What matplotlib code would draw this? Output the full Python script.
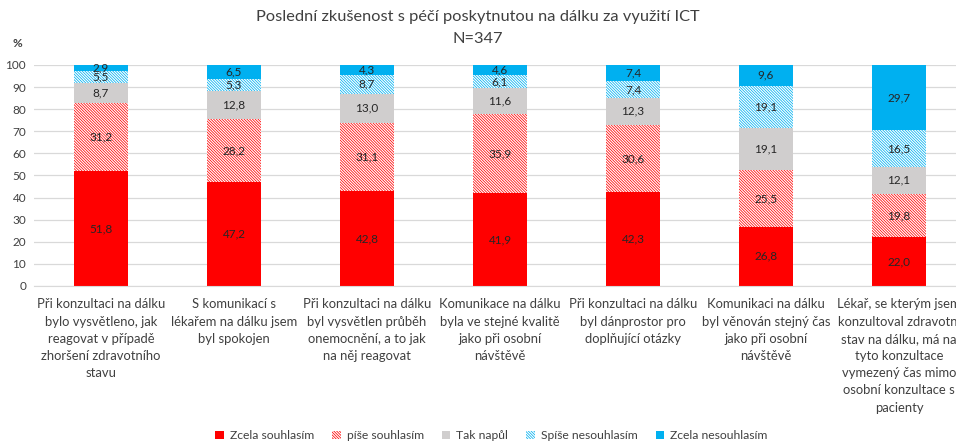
import matplotlib
matplotlib.use("Agg")
import matplotlib.pyplot as plt
import numpy as np

plt.rcParams['font.family'] = ['Lato', 'DejaVu Sans']
plt.rcParams['hatch.linewidth'] = 0.55

kategorie = [
    "Při konzultaci na dálku\nbylo vysvětleno, jak\nreagovat v případě\nzhoršení zdravotního\nstavu",
    "S komunikací s\nlékařem na dálku jsem\nbyl spokojen",
    "Při konzultaci na dálku\nbyl vysvětlen průběh\nonemocnění, a to jak\nna něj reagovat",
    "Komunikace na dálku\nbyla ve stejné kvalitě\njako při osobní\nnávštěvě",
    "Při konzultaci na dálku\nbyl dánprostor pro\ndoplňující otázky",
    "Komunikaci na dálku\nbyl věnován stejný čas\njako při osobní\nnávštěvě",
    "Lékař, se kterým jsem\nkonzultoval zdravotní\nstav na dálku, má na\ntyto konzultace\nvymezený čas mimo\nosobní konzultace s\npacienty",
]
legenda = ["Zcela souhlasím", "píše souhlasím", "Tak napůl", "Spíše nesouhlasím", "Zcela nesouhlasím"]

zcela_souhlasim = [51.8, 47.2, 42.8, 41.9, 42.3, 26.8, 22.0]
spise_souhlasim = [31.2, 28.2, 31.1, 35.9, 30.6, 25.5, 19.8]
tak_napul = [8.7, 12.8, 13.0, 11.6, 12.3, 19.1, 12.1]
spise_nesouhlasim = [5.5, 5.3, 8.7, 6.1, 7.4, 19.1, 16.5]
zcela_nesouhlasim = [2.9, 6.5, 4.3, 4.6, 7.4, 9.6, 29.7]

rady = [zcela_souhlasim, spise_souhlasim, tak_napul, spise_nesouhlasim, zcela_nesouhlasim]
# (barva vyplne, barva hrany/srafy, srafa)
srafa = "\\" * 12
styly = [
    ("#FF0000", "#FF0000", None),
    ("white", "#FF0000", srafa),
    ("#D0CECE", "#D0CECE", None),
    ("white", "#00B0F0", srafa),
    ("#00B0F0", "#00B0F0", None),
]

fig = plt.figure(figsize=(9.56, 4.42), dpi=100)
ax = fig.add_axes([0.036, 0.353, 0.974, 0.500])

x = np.arange(len(kategorie))
spodek = np.zeros(len(kategorie))
handles = []
for hodnoty, (fc, ec, hatch), nazev in zip(rady, styly, legenda):
    bars = ax.bar(x, hodnoty, width=0.4, bottom=spodek, color=fc, edgecolor=ec,
                  hatch=hatch, linewidth=0, label=nazev, zorder=2)
    handles.append(bars)
    for xi, b, v in zip(x, spodek, hodnoty):
        ax.text(xi, min(b + v / 2, 98.6), f"{v:.1f}".replace(".", ","), ha="center", va="center",
                fontsize=8.5, color="#262626", zorder=3)
    spodek += np.array(hodnoty)

ax.set_xlim(-0.5, len(kategorie) - 0.5)
ax.set_ylim(0, 100)
ax.set_yticks(range(0, 101, 10))
ax.tick_params(axis="y", length=0, labelsize=8.5, labelcolor="#404040", pad=6)
ax.set_xticks(x)
ax.set_xticklabels(kategorie, fontsize=9.4, color="#404040", linespacing=1.52)
ax.tick_params(axis="x", length=0, pad=9)
ax.yaxis.grid(True, color="#D9D9D9", linewidth=0.9, zorder=0)
ax.set_axisbelow(True)
for s in ["top", "right", "left"]:
    ax.spines[s].set_visible(False)
ax.spines["bottom"].set_color("#D9D9D9")

fig.text(0.013, 0.902, "%", fontsize=8.5, fontweight="bold", color="#404040", ha="left", va="center")
fig.text(0.5, 0.962, "Poslední zkušenost s péčí poskytnutou na dálku za využití ICT", fontsize=11.8,
         color="#404040", ha="center", va="center")
fig.text(0.5, 0.912, "N=347", fontsize=11.8, color="#404040", ha="center", va="center")

fig.legend(handles=handles, loc="center", bbox_to_anchor=(0.514, 0.014), ncol=5, frameon=False,
           fontsize=8.7, handlelength=0.7, handleheight=0.7, columnspacing=1.5, handletextpad=0.5,
           labelcolor="#404040", borderpad=0.1)

fig.savefig("out.png", dpi=100)
